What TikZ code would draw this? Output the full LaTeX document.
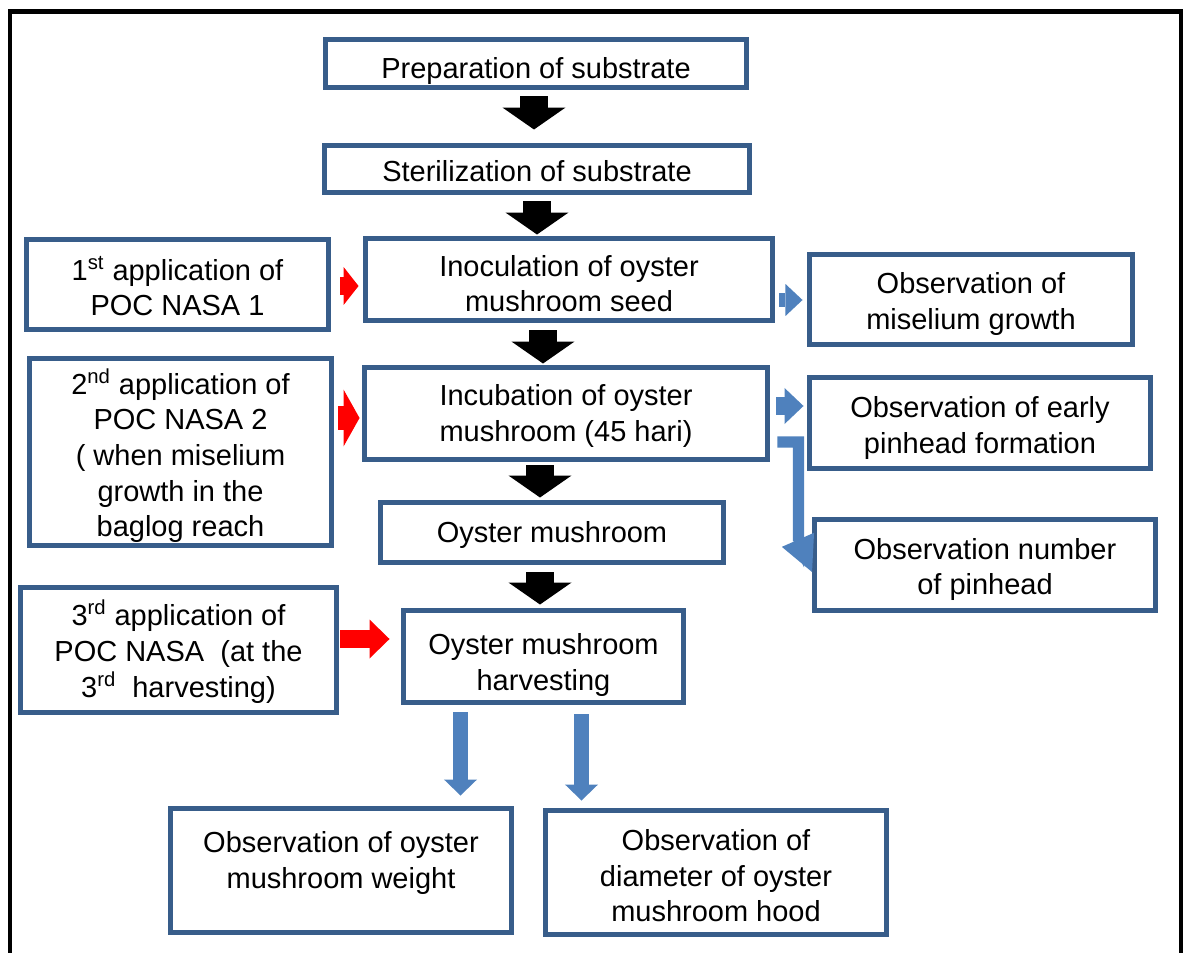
\documentclass[tikz,border=0pt]{standalone}
\usepackage{fontspec}
\setmainfont{Liberation Sans}
\usetikzlibrary{arrows.meta,calc}
\definecolor{boxblue}{RGB}{56,93,138}
\definecolor{arrowblue}{RGB}{79,129,189}
% centred lines, optional raise of the text inside its box
\newcommand{\boxlines}[2][0pt]{\raisebox{\dimexpr#1-1.7pt\relax}[\height][\depth]{\begin{tabular}{@{}c@{}}#2\end{tabular}}}

\begin{document}
\begin{tikzpicture}[x=0.02cm,y=-0.02cm,
    box/.style={draw=boxblue,line width=2.85pt,inner sep=0pt,
        font=\fontsize{16.5pt}{20.3pt}\selectfont},
    blackarrow/.style={line width=16.5pt,-{Triangle[width=35.9pt,length=12.5pt,line width=0pt]}},
    redarrow/.style n args={3}{red,line width=#1,-{Triangle[width=#2,length=#3,line width=0pt]}},
    bluearrow/.style n args={3}{arrowblue,line width=#1,-{Triangle[width=#2,length=#3,line width=0pt]}}]
                    \useasboundingbox (0,0) rectangle (1184,953);
                    %FRAME
                    \draw[line width=2.6pt,line join=miter] (10,960) -- (10,11.7) -- (1181,11.7) -- (1181,960);

                    %NODE
                    \node[box,minimum width=8.42cm,minimum height=0.96cm] (Prep) at (536,63.5) {\boxlines[-2.5pt]{Preparation of substrate}};
                    \node[box,minimum width=8.50cm,minimum height=0.94cm] (Steril) at (537,169) {\boxlines[-1.1pt]{Sterilization of substrate}};
                    \node[box,minimum width=8.14cm,minimum height=1.64cm] (Inoc) at (569,279.5) {\boxlines[-2.5pt]{Inoculation of oyster\\mushroom seed}};
                    \node[box,minimum width=6.04cm,minimum height=1.80cm] (App1) at (177.5,284.5) {\boxlines[-2pt]{1\textsuperscript{st} application of\\POC NASA 1}};
                    \node[box,minimum width=6.46cm,minimum height=1.80cm] (Obs1) at (971,299.5) {\boxlines[-1.1pt]{Observation of\\miselium growth}};
                    \node[box,minimum width=6.04cm,minimum height=3.74cm] (App2) at (180.5,452) {\boxlines[-1.7pt]{2\textsuperscript{nd} application of\\POC NASA 2\\( when miselium\\growth in the\\baglog reach}};
                    \node[box,minimum width=8.06cm,minimum height=1.84cm] (Incub) at (566,413.5) {\boxlines{Incubation of oyster\\mushroom (45 hari)}};
                    \node[box,minimum width=6.82cm,minimum height=1.82cm] (Obs2) at (980,423) {\boxlines[-1.4pt]{Observation of early\\pinhead formation}};
                    \node[box,minimum width=6.86cm,minimum height=1.20cm] (Oyster) at (552,532.5) {\boxlines{Oyster mushroom}};
                    \node[box,minimum width=6.82cm,minimum height=1.82cm] (Obs3) at (985,565) {\boxlines[-1.1pt]{Observation number\\of pinhead}};
                    \node[box,minimum width=6.32cm,minimum height=2.50cm] (App3) at (178.5,650) {\boxlines[-0.6pt]{3\textsuperscript{rd} application of\\POC NASA~ (at the\\3\textsuperscript{rd}~ harvesting)}};
                    \node[box,minimum width=5.60cm,minimum height=1.84cm] (Harvest) at (543.5,656.5) {\boxlines[-3.4pt]{Oyster mushroom\\harvesting}};
                    \node[box,minimum width=6.82cm,minimum height=2.48cm] (Weight) at (341,870.5) {\boxlines[5.7pt]{Observation of oyster\\mushroom weight}};
                    \node[box,minimum width=6.82cm,minimum height=2.48cm] (Diam) at (716,872.5) {\boxlines[-2pt]{Observation of\\diameter of oyster\\mushroom hood}};

                    %ARROW
                    \draw[blackarrow,shorten <=0.13cm,shorten >=0.27cm] ($(Prep.south)+(-2,0)$) -- ($(Prep.south |- Steril.north)+(-2,0)$);
                    \draw[blackarrow,shorten <=0.13cm,shorten >=0.03cm] (Steril.south) -- (Steril.south |- Inoc.north);
                    \draw[blackarrow,shorten <=0.15cm,shorten >=0.03cm] ($(Inoc.south)+(-26,0)$) -- ($(Inoc.south |- Incub.north)+(-26,0)$);
                    \draw[blackarrow,shorten <=0.07cm,shorten >=0.05cm] ($(Incub.south)+(-26,0)$) -- ($(Incub.south |- Oyster.north)+(-26,0)$);
                    \draw[blackarrow,shorten <=0.15cm,shorten >=0.07cm] ($(Oyster.south)+(-12,0)$) -- ($(Oyster.south |- Harvest.north)+(-12,0)$);

                    \draw[redarrow={9.7pt}{21.6pt}{8.5pt},shorten <=0.19cm,shorten >=0.09cm] ($(App1.east)+(0,1.5)$) -- ($(App1.east -| Inoc.west)+(0,1.5)$);
                    \draw[redarrow={13.1pt}{32.4pt}{9.1pt},shorten <=0.09cm,shorten >=0.05cm] ($(App2.east)+(0,-34)$) -- ($(App2.east -| Incub.west)+(0,-34)$);
                    \draw[redarrow={10.2pt}{22.2pt}{11.4pt},shorten <=0.03cm,shorten >=0.23cm] ($(App3.east)+(0,-11)$) -- ($(App3.east -| Harvest.west)+(0,-11)$);

                    \draw[bluearrow={8.5pt}{18.2pt}{9.7pt},shorten <=0.09cm,shorten >=0.09cm] ($(Inoc.east)+(0,20.5)$) -- ($(Inoc.east -| Obs1.west)+(0,20.5)$);
                    \draw[bluearrow={9.7pt}{20.5pt}{10.8pt},shorten <=0.13cm,shorten >=0.07cm] ($(Incub.east)+(0,-7.5)$) -- ($(Incub.east -| Obs2.west)+(0,-7.5)$);
                    \draw[bluearrow={6.3pt}{20pt}{20pt},line join=miter,shorten <=0.15cm] ($(Incub.east)+(0,28.5)$) -- ++(28.5,0) -- ++(0,99) -- ($(Obs3.west)+(0,7)$);
                    \draw[bluearrow={8.5pt}{18.8pt}{9.1pt},shorten <=0.15cm,shorten >=0.21cm] ($(Harvest.south)+(-83,0)$) -- ($(Harvest.south |- Weight.north)+(-83,0)$);
                    \draw[bluearrow={8.5pt}{18.8pt}{9.1pt},shorten <=0.19cm,shorten >=0.15cm] ($(Harvest.south)+(38,0)$) -- ($(Harvest.south |- Diam.north)+(38,0)$);
                \end{tikzpicture}
\end{document}
